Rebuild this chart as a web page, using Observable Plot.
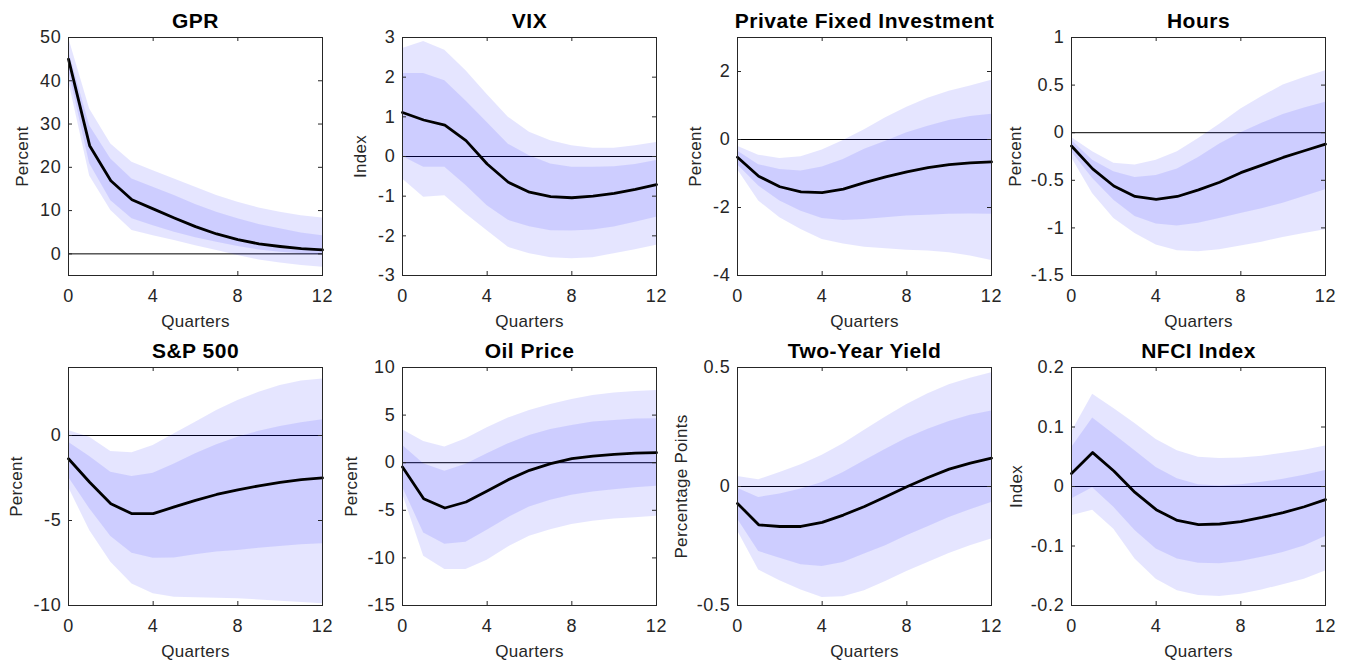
<!DOCTYPE html>
<html><head><meta charset="utf-8">
<script src="https://cdn.jsdelivr.net/npm/d3@7"></script>
<script src="https://cdn.jsdelivr.net/npm/@observablehq/plot@0.6"></script>
<style>
html,body{margin:0;padding:0;background:#fff;}
#fig{position:relative;width:1351px;height:665px;overflow:hidden;background:#fff;}
#fig svg{position:absolute;}
</style></head><body><div id="fig"></div>
<script>
// ---------------- data ----------------
const quarters = [0,1,2,3,4,5,6,7,8,9,10,11,12];
const xTicks = [0,4,8,12];

const titles = ["GPR","VIX","Private Fixed Investment","Hours","S&P 500","Oil Price","Two-Year Yield","NFCI Index"];
const yLabels = ["Percent","Index","Percent","Percent","Percent","Percent","Percentage Points","Index"];
const yDomains = [[-5,50],[-3,3],[-4,3],[-1.5,1],[-10,4],[-15,10],[-0.5,0.5],[-0.2,0.2]];
const yTicks = [[0,10,20,30,40,50],[-3,-2,-1,0,1,2,3],[-4,-2,0,2],[-1.5,-1,-0.5,0,0.5,1],[-10,-5,0],[-15,-10,-5,0,5,10],[-0.5,0,0.5],[-0.2,-0.1,0,0.1,0.2]];

// GPR
const gprMedian  = [45, 25, 16.9, 12.5, 10.4, 8.3, 6.3, 4.6, 3.3, 2.3, 1.7, 1.2, 0.9];
const gprOuterHi = [50, 33.5, 25.4, 21.2, 19.2, 17.3, 15.4, 13.5, 11.9, 10.6, 9.6, 8.8, 8.3];
const gprInnerHi = [47, 29.6, 21.9, 17.3, 15.4, 13.5, 11.4, 9.6, 8.1, 6.8, 5.8, 4.8, 4.2];
const gprInnerLo = [42.5, 20.8, 12.3, 8.1, 6.5, 5, 3.7, 2.7, 1.7, 0.9, 0.4, 0, -0.2];
const gprOuterLo = [40, 18, 10, 5.4, 4.2, 3.1, 1.9, 0.8, -0.4, -1.4, -2.1, -2.7, -3.1];
// VIX
const vixMedian  = [1.11, 0.92, 0.79, 0.4, -0.19, -0.65, -0.9, -1.01, -1.04, -1.0, -0.93, -0.83, -0.71];
const vixOuterHi = [2.72, 2.9, 2.68, 2.16, 1.56, 0.99, 0.61, 0.4, 0.27, 0.21, 0.21, 0.27, 0.35];
const vixInnerHi = [2.09, 2.09, 1.91, 1.4, 0.86, 0.31, 0.02, -0.19, -0.27, -0.27, -0.26, -0.2, -0.1];
const vixInnerLo = [0, -0.27, -0.27, -0.73, -1.24, -1.61, -1.77, -1.87, -1.88, -1.85, -1.78, -1.66, -1.53];
const vixOuterLo = [-0.57, -1.03, -0.99, -1.45, -1.87, -2.29, -2.45, -2.55, -2.58, -2.55, -2.45, -2.35, -2.24];
// Private Fixed Investment
const pfiMedian  = [-0.52, -1.08, -1.39, -1.54, -1.56, -1.46, -1.27, -1.1, -0.95, -0.83, -0.74, -0.69, -0.66];
const pfiOuterHi = [-0.2, -0.46, -0.56, -0.51, -0.31, -0.03, 0.29, 0.64, 0.95, 1.21, 1.42, 1.57, 1.74];
const pfiInnerHi = [-0.34, -0.74, -0.88, -0.93, -0.81, -0.59, -0.29, -0.05, 0.2, 0.39, 0.56, 0.68, 0.74];
const pfiInnerLo = [-0.74, -1.37, -1.81, -2.11, -2.32, -2.38, -2.35, -2.3, -2.25, -2.23, -2.2, -2.19, -2.2];
const pfiOuterLo = [-0.88, -1.81, -2.3, -2.65, -2.94, -3.07, -3.17, -3.21, -3.26, -3.28, -3.33, -3.43, -3.56];
// Hours
const hrsMedian  = [-0.14, -0.38, -0.56, -0.67, -0.7, -0.67, -0.6, -0.52, -0.42, -0.34, -0.26, -0.19, -0.12];
const hrsOuterHi = [-0.05, -0.2, -0.32, -0.34, -0.29, -0.2, -0.06, 0.09, 0.25, 0.38, 0.5, 0.58, 0.65];
const hrsInnerHi = [-0.08, -0.29, -0.41, -0.47, -0.45, -0.38, -0.26, -0.12, 0, 0.1, 0.19, 0.26, 0.32];
const hrsInnerLo = [-0.2, -0.48, -0.71, -0.88, -0.96, -0.98, -0.95, -0.9, -0.85, -0.8, -0.74, -0.67, -0.6];
const hrsOuterLo = [-0.26, -0.64, -0.9, -1.06, -1.18, -1.24, -1.25, -1.23, -1.19, -1.15, -1.1, -1.06, -1.02];
// S&P 500
const spMedian  = [-1.37, -2.75, -4.02, -4.6, -4.6, -4.2, -3.82, -3.47, -3.2, -2.96, -2.76, -2.6, -2.49];
const spOuterHi = [0.29, -0.1, -0.94, -1.02, -0.59, 0.1, 0.78, 1.47, 2.06, 2.55, 2.94, 3.2, 3.33];
const spInnerHi = [-0.39, -1.24, -2.16, -2.41, -2.22, -1.67, -1.08, -0.55, -0.1, 0.25, 0.53, 0.75, 0.92];
const spInnerLo = [-2.45, -4.31, -5.94, -6.92, -7.22, -7.2, -7.02, -6.86, -6.76, -6.63, -6.53, -6.43, -6.37];
const spOuterLo = [-3.04, -5.59, -7.45, -8.73, -9.31, -9.51, -9.55, -9.57, -9.61, -9.67, -9.75, -9.82, -9.9];
// Oil Price
const oilMedian  = [-0.45, -3.78, -4.76, -4.13, -2.97, -1.78, -0.8, -0.1, 0.42, 0.7, 0.87, 1.01, 1.05];
const oilOuterHi = [3.46, 2.24, 1.64, 2.52, 3.67, 4.69, 5.49, 6.12, 6.64, 7.06, 7.31, 7.48, 7.59];
const oilInnerHi = [1.82, -0.1, -0.91, -0.17, 0.94, 1.99, 2.87, 3.5, 3.92, 4.27, 4.44, 4.58, 4.62];
const oilInnerLo = [-2.55, -7.38, -8.57, -8.36, -7.1, -5.77, -4.65, -3.95, -3.43, -3.08, -2.83, -2.62, -2.48];
const oilOuterLo = [-3.25, -9.83, -11.22, -11.22, -10.24, -8.85, -7.73, -7.03, -6.5, -6.15, -5.91, -5.77, -5.63];
// Two-Year Yield
const tyMedian  = [-0.071, -0.161, -0.168, -0.168, -0.151, -0.12, -0.084, -0.043, -0.001, 0.038, 0.073, 0.098, 0.119];
const tyOuterHi = [0.042, 0.028, 0.059, 0.091, 0.131, 0.18, 0.236, 0.292, 0.345, 0.39, 0.427, 0.455, 0.478];
const tyInnerHi = [-0.007, -0.046, -0.032, -0.011, 0.017, 0.059, 0.108, 0.157, 0.203, 0.241, 0.273, 0.299, 0.317];
const tyInnerLo = [-0.137, -0.273, -0.301, -0.329, -0.336, -0.319, -0.284, -0.249, -0.207, -0.169, -0.13, -0.098, -0.067];
const tyOuterLo = [-0.186, -0.351, -0.396, -0.435, -0.466, -0.463, -0.438, -0.399, -0.357, -0.319, -0.281, -0.249, -0.221];
// NFCI Index
const nfciMedian  = [0.022, 0.057, 0.026, -0.01, -0.039, -0.057, -0.064, -0.063, -0.059, -0.052, -0.044, -0.034, -0.022];
const nfciOuterHi = [0.091, 0.155, 0.131, 0.106, 0.079, 0.06, 0.049, 0.047, 0.048, 0.051, 0.056, 0.061, 0.068];
const nfciInnerHi = [0.065, 0.115, 0.088, 0.06, 0.032, 0.013, 0.003, 0.001, 0.003, 0.007, 0.012, 0.019, 0.027];
const nfciInnerLo = [-0.021, -0.002, -0.035, -0.074, -0.105, -0.122, -0.129, -0.13, -0.126, -0.119, -0.111, -0.1, -0.084];
const nfciOuterLo = [-0.049, -0.04, -0.072, -0.122, -0.156, -0.175, -0.183, -0.185, -0.181, -0.174, -0.165, -0.156, -0.142];

const series = [
  [gprMedian, gprInnerLo, gprInnerHi, gprOuterLo, gprOuterHi],
  [vixMedian, vixInnerLo, vixInnerHi, vixOuterLo, vixOuterHi],
  [pfiMedian, pfiInnerLo, pfiInnerHi, pfiOuterLo, pfiOuterHi],
  [hrsMedian, hrsInnerLo, hrsInnerHi, hrsOuterLo, hrsOuterHi],
  [spMedian, spInnerLo, spInnerHi, spOuterLo, spOuterHi],
  [oilMedian, oilInnerLo, oilInnerHi, oilOuterLo, oilOuterHi],
  [tyMedian, tyInnerLo, tyInnerHi, tyOuterLo, tyOuterHi],
  [nfciMedian, nfciInnerLo, nfciInnerHi, nfciOuterLo, nfciOuterHi]
];

// ---------------- layout ----------------
const plotLefts = [67.7, 401.7, 736.7, 1071];
const rowTops = [0, 330];
const labelOffsets = [46, 42, 42, 56, 52, 51, 56, 55];
const ML = 60, MR = 20, MT = 37, MB = 55, W = 334, H = 330;
const PW = W - ML - MR, PH = H - MT - MB;
const axisColor = "#262626";
const FONT = "'Liberation Sans', Arial, Helvetica, sans-serif";
const TICK = 4;
const spacing = {"21": "0.5px", "18": "0.7px", "17": "0.3px"};

const fig = document.getElementById("fig");

titles.forEach((title, p) => {
  const [med, ilo, ihi, olo, ohi] = series[p];
  const rows = quarters.map((q, i) => ({q, med: med[i], ilo: ilo[i], ihi: ihi[i], olo: olo[i], ohi: ohi[i]}));
  const chart = Plot.plot({
    width: W, height: H,
    marginLeft: ML, marginRight: MR, marginTop: MT, marginBottom: MB,
    style: {fontFamily: FONT, background: "transparent", overflow: "visible", color: axisColor},
    x: {domain: [0, 12]},
    y: {domain: yDomains[p]},
    marks: [
      Plot.ruleY([0], {stroke: "black", strokeWidth: 1}),
      Plot.areaY(rows, {x: "q", y1: "olo", y2: "ohi", fill: "blue", fillOpacity: 0.1}),
      Plot.areaY(rows, {x: "q", y1: "ilo", y2: "ihi", fill: "blue", fillOpacity: 0.1}),
      Plot.line(rows, {x: "q", y: "med", stroke: "black", strokeWidth: 2.8}),
      Plot.frame({stroke: axisColor, strokeWidth: 1}),
      Plot.tickX(xTicks, {x: d => d, insetTop: PH - TICK, stroke: axisColor}),
      Plot.tickX(xTicks, {x: d => d, insetBottom: PH - TICK, stroke: axisColor}),
      Plot.tickY(yTicks[p], {y: d => d, insetRight: PW - TICK, stroke: axisColor}),
      Plot.tickY(yTicks[p], {y: d => d, insetLeft: PW - TICK, stroke: axisColor}),
      Plot.axisX({ticks: xTicks, tickSize: 0, tickPadding: 14, tickFormat: d => String(d), fontSize: 18, label: null, fill: axisColor}),
      Plot.axisY({ticks: yTicks[p], tickSize: 0, tickPadding: 7, tickFormat: d => String(d), fontSize: 18, label: null, fill: axisColor}),
      Plot.text([title], {frameAnchor: "top", text: d => d, dy: -10, lineAnchor: "bottom", fontSize: 21, fontWeight: "bold", fill: "black"}),
      Plot.text(["Quarters"], {frameAnchor: "bottom", text: d => d, dy: 39, lineAnchor: "top", fontSize: 17, fill: axisColor}),
      Plot.text([yLabels[p]], {frameAnchor: "left", text: d => d, dx: -labelOffsets[p], rotate: -90, lineAnchor: "middle", textAnchor: "middle", fontSize: 17, fill: axisColor})
    ]
  });
  chart.querySelectorAll("g[font-size]").forEach(g => {
    const s = spacing[g.getAttribute("font-size")];
    if (s) g.style.letterSpacing = s;
  });
  chart.style.left = (plotLefts[p % 4] - ML) + "px";
  chart.style.top = rowTops[Math.floor(p / 4)] + "px";
  fig.appendChild(chart);
});
</script>
</body></html>
